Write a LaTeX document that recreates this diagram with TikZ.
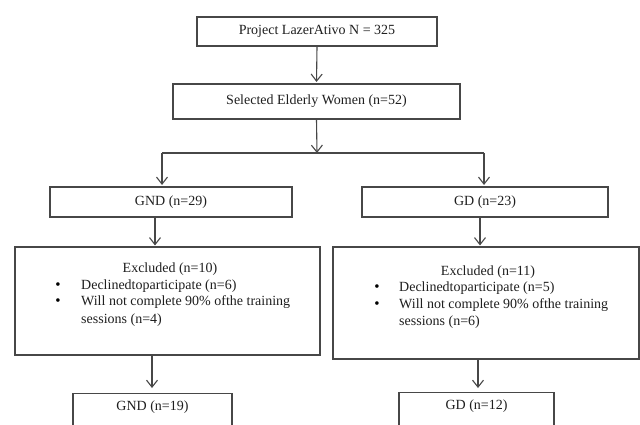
\documentclass[tikz,border=0pt]{standalone}
\usepackage{fontspec}
\setmainfont{Liberation Serif}
\usetikzlibrary{arrows.meta}
\tikzset{
  box/.style={draw=black!72, line width=1.1pt, rectangle, inner sep=0pt, font=\fontsize{14}{16}\selectfont, text=black!88},
  txt/.style={inner sep=0pt, font=\fontsize{14}{16}\selectfont, text=black!88},
  arr/.style={draw=black!72, line width=1.1pt, -{Straight Barb[length=7pt,width=11pt,line width=1.1pt]}},
  ln/.style={draw=black!72, line width=1.1pt},
  bul/.style={inner sep=0pt, font=\fontsize{15}{16}\selectfont, text=black}
}
\begin{document}
\begin{tikzpicture}[x=1pt,y=-1pt]
\useasboundingbox (0,0) rectangle (640,424);
\clip (0,0) rectangle (640,424);
\fill[white] (0,0) rectangle (640,424);

\node[box, minimum width=240pt, minimum height=29pt] (proj) at (317,31.5) {Project LazerAtivo N = 325};
\node[box, minimum width=287pt, minimum height=35pt] (sel) at (316.5,101.5) {Selected Elderly Women (n=52)};
\node[box, minimum width=242pt, minimum height=30pt] (gnd) at (171,202) {GND (n=29)};
\node[box, minimum width=246pt, minimum height=30pt] (gd) at (485,202) {GD (n=23)};
\node[box, minimum width=305pt, minimum height=108pt] (exl) at (167.5,301) {};
\node[box, minimum width=306pt, minimum height=112pt] (exr) at (486,303) {};
\node[box, anchor=north, minimum width=159pt, text height=12pt, text depth=50pt, inner ysep=5pt] (gndb) at (152.5,393) {GND (n=19)};
\node[box, anchor=north, minimum width=155pt, text height=12pt, text depth=50pt, inner ysep=5pt] (gdb) at (476.5,392) {GD (n=12)};

% left excluded text
\node[txt] (exlh) at (170,269.5) {Excluded (n=10)};
\node[bul] (exlb1) at (58,286) {\textbullet};
\node[bul] (exlb2) at (58,302.5) {\textbullet};
\node[txt, anchor=west] (exl1) at (81,286) {Declinedtoparticipate (n=6)};
\node[txt, anchor=west] (exl2) at (81,302.5) {Will not complete 90\% ofthe training};
\node[txt, anchor=west] (exl3) at (81,320) {sessions (n=4)};

% right excluded text
\node[txt] (exrh) at (488,272) {Excluded (n=11)};
\node[bul] (exrb1) at (377,288.5) {\textbullet};
\node[bul] (exrb2) at (377,305) {\textbullet};
\node[txt, anchor=west] (exr1) at (399,288.5) {Declinedtoparticipate (n=5)};
\node[txt, anchor=west] (exr2) at (399,305) {Will not complete 90\% ofthe training};
\node[txt, anchor=west] (exr3) at (399,322.5) {sessions (n=6)};

% connectors
\draw[arr, shorten >=1.5pt] (proj.south) -- (sel.north);
\coordinate (split) at (317,153);
\coordinate (bl) at (162,153);
\coordinate (br) at (484,153);
\draw[arr] (sel.south) -- (split);
\draw[ln] (bl) -- (br);
\draw[arr, shorten >=1.5pt] (bl) -- (bl |- gnd.north);
\draw[arr, shorten >=1.5pt] (br) -- (br |- gd.north);
\coordinate (gl) at (155,217);
\coordinate (gr) at (480,217);
\draw[arr, shorten >=1pt] (gl) -- (gl |- exl.north);
\draw[arr, shorten >=1pt] (gr) -- (gr |- exr.north);
\coordinate (el) at (152,355);
\coordinate (er) at (478,359);
\draw[arr, shorten >=5pt] (el) -- (el |- gndb.north);
\draw[arr, shorten >=4pt] (er) -- (er |- gdb.north);
\end{tikzpicture}
\end{document}
